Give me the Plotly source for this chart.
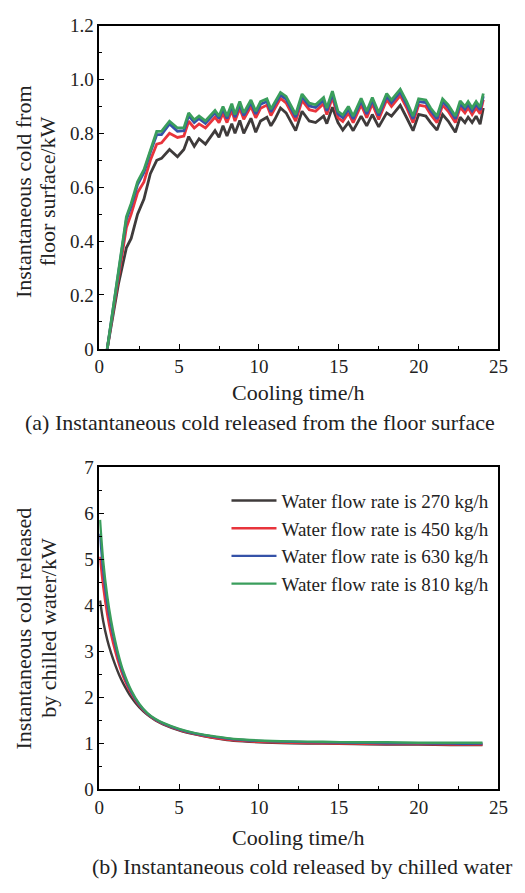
import plotly.graph_objects as go

# ---------------- data: (a) floor surface ----------------
t_a = [0.5, 1.2, 1.7, 2.0, 2.4, 2.8, 3.2, 3.6, 3.9, 4.4, 4.9, 5.3, 5.6, 5.95, 6.25,
       6.65, 7.25, 7.5, 7.75, 8.0, 8.3, 8.5, 8.8, 9.05, 9.5, 9.8, 10.1, 10.5, 10.75, 11.0,
       11.35, 11.7, 12.3, 12.7, 13.15, 13.55, 14.05, 14.25, 14.6, 14.95, 15.25, 15.6, 15.9,
       16.4, 16.75, 17.1, 17.5, 18.0, 18.3, 18.85, 19.25, 19.65, 20.0, 20.45, 20.75, 21.15,
       21.5, 21.85, 22.3, 22.6, 22.9, 23.1, 23.35, 23.6, 23.85, 24.05]

a_270 = [0.0, 0.24, 0.375, 0.41, 0.50, 0.556, 0.65, 0.70, 0.707, 0.74, 0.713, 0.74, 0.788,
         0.752, 0.78, 0.76, 0.81, 0.785, 0.828, 0.79, 0.836, 0.80, 0.848, 0.80, 0.856, 0.804,
         0.846, 0.86, 0.828, 0.852, 0.894, 0.876, 0.81, 0.882, 0.846, 0.84, 0.864, 0.836,
         0.897, 0.84, 0.812, 0.84, 0.81, 0.864, 0.828, 0.87, 0.824, 0.876, 0.864, 0.904,
         0.858, 0.81, 0.87, 0.864, 0.84, 0.812, 0.87, 0.846, 0.804, 0.86, 0.84, 0.86, 0.84,
         0.864, 0.834, 0.894]
a_450 = [0.0, 0.27, 0.45, 0.50, 0.58, 0.62, 0.70, 0.76, 0.765, 0.80, 0.785, 0.79, 0.845,
         0.82, 0.835, 0.82, 0.86, 0.84, 0.875, 0.84, 0.885, 0.846, 0.893, 0.852, 0.90, 0.858,
         0.893, 0.905, 0.866, 0.893, 0.93, 0.913, 0.846, 0.922, 0.888, 0.882, 0.91, 0.87,
         0.934, 0.858, 0.844, 0.876, 0.84, 0.906, 0.858, 0.91, 0.852, 0.925, 0.90, 0.94,
         0.895, 0.84, 0.905, 0.90, 0.87, 0.84, 0.905, 0.882, 0.84, 0.897, 0.876, 0.895, 0.87,
         0.894, 0.873, 0.925]
a_630 = [0.0, 0.285, 0.48, 0.53, 0.61, 0.655, 0.73, 0.795, 0.795, 0.835, 0.808, 0.81, 0.866,
         0.84, 0.855, 0.837, 0.876, 0.855, 0.89, 0.855, 0.90, 0.86, 0.908, 0.866, 0.914, 0.872,
         0.908, 0.918, 0.88, 0.908, 0.942, 0.927, 0.86, 0.936, 0.902, 0.896, 0.923, 0.884,
         0.947, 0.872, 0.858, 0.89, 0.854, 0.92, 0.872, 0.923, 0.866, 0.938, 0.914, 0.954,
         0.908, 0.854, 0.918, 0.914, 0.884, 0.854, 0.918, 0.896, 0.854, 0.91, 0.89, 0.908,
         0.884, 0.908, 0.887, 0.938]
a_810 = [0.0, 0.29, 0.49, 0.54, 0.62, 0.665, 0.74, 0.807, 0.807, 0.845, 0.82, 0.82, 0.876,
         0.85, 0.864, 0.846, 0.885, 0.864, 0.90, 0.864, 0.91, 0.87, 0.918, 0.876, 0.924, 0.882,
         0.918, 0.928, 0.89, 0.918, 0.952, 0.937, 0.87, 0.946, 0.912, 0.906, 0.933, 0.894,
         0.957, 0.882, 0.868, 0.90, 0.864, 0.93, 0.882, 0.933, 0.876, 0.948, 0.924, 0.964,
         0.918, 0.864, 0.928, 0.924, 0.894, 0.864, 0.928, 0.906, 0.864, 0.92, 0.90, 0.918,
         0.894, 0.918, 0.897, 0.948]

# ---------------- data: (b) chilled water ----------------
t_b = [0.05, 0.25, 0.5, 0.75, 1, 1.25, 1.5, 2, 2.5, 3, 3.5, 4, 5, 6, 7, 8, 9, 10,
       12, 14, 16, 18, 20, 22, 24]
b_270 = [4.1, 3.65, 3.25, 2.95, 2.7, 2.48, 2.3, 2.0, 1.78, 1.62, 1.5, 1.41, 1.28, 1.19,
         1.12, 1.07, 1.04, 1.02, 1.0, 0.99, 0.98, 0.97, 0.97, 0.96, 0.96]
b_450 = [5.05, 4.4, 3.8, 3.35, 3.0, 2.7, 2.45, 2.08, 1.82, 1.64, 1.51, 1.42, 1.29, 1.2,
         1.13, 1.08, 1.05, 1.03, 1.01, 1.0, 0.99, 0.98, 0.98, 0.97, 0.97]
b_630 = [5.55, 4.75, 4.05, 3.55, 3.15, 2.8, 2.52, 2.12, 1.84, 1.65, 1.52, 1.43, 1.3, 1.21,
         1.15, 1.1, 1.07, 1.05, 1.03, 1.02, 1.01, 1.0, 1.0, 0.99, 0.99]
b_810 = [5.85, 4.95, 4.2, 3.65, 3.22, 2.86, 2.57, 2.15, 1.86, 1.66, 1.53, 1.44, 1.31, 1.22,
         1.16, 1.11, 1.08, 1.06, 1.04, 1.03, 1.02, 1.02, 1.01, 1.01, 1.01]

names = ["Water flow rate is 270 kg/h", "Water flow rate is 450 kg/h",
         "Water flow rate is 630 kg/h", "Water flow rate is 810 kg/h"]
colors = ["#3f3b3b", "#e8343c", "#3552a8", "#3a9e5c"]

y_ticks_a = [0, 0.2, 0.4, 0.6, 0.8, 1.0, 1.2]
y_ticklabels_a = ["0", "0.2", "0.4", "0.6", "0.8", "1.0", "1.2"]
x_ticks = [0, 5, 10, 15, 20, 25]
y_ticks_b = [0, 1, 2, 3, 4, 5, 6, 7]

FONT = "'Liberation Serif'"
W, H = 525, 893

fig = go.Figure()
for ys, nm, c in zip([a_270, a_450, a_630, a_810], names, colors):
    fig.add_trace(go.Scatter(x=t_a, y=ys, mode="lines", name=nm, showlegend=False,
                             line=dict(color=c, width=2.8), xaxis="x", yaxis="y"))
for ys, nm, c in zip([b_270, b_450, b_630, b_810], names, colors):
    fig.add_trace(go.Scatter(x=t_b, y=ys, mode="lines", name=nm, showlegend=True,
                             line=dict(color=c, width=2.4, shape="spline"),
                             xaxis="x2", yaxis="y2"))

def px_x(p):
    return p / W

def px_y(p):
    return 1 - p / H

axis_common = dict(showline=True, linecolor="black", linewidth=1.5, mirror=True,
                   ticks="inside", ticklen=5, tickwidth=1.3, tickcolor="black",
                   showgrid=False, zeroline=False,
                   tickfont=dict(family=FONT, size=19, color="#222"))

fig.update_layout(
    width=W, height=H,
    margin=dict(l=0, r=0, t=0, b=0),
    paper_bgcolor="white", plot_bgcolor="white",
    font=dict(family=FONT, color="#222"),
    xaxis=dict(domain=[px_x(97), px_x(508)], range=[0, 25], tickvals=x_ticks,
               minor=dict(ticks="inside", ticklen=3, dtick=2.5, tickcolor="black"),
               anchor="y", **axis_common),
    yaxis=dict(domain=[px_y(347), px_y(16)], range=[0, 1.2], tickvals=y_ticks_a,
               ticktext=y_ticklabels_a,
               minor=dict(ticks="inside", ticklen=3, dtick=0.1, tickcolor="black"),
               anchor="x", **axis_common),
    xaxis2=dict(domain=[px_x(97), px_x(508)], range=[0, 25], tickvals=x_ticks,
                minor=dict(ticks="inside", ticklen=3, dtick=2.5, tickcolor="black"),
                anchor="y2", **axis_common),
    yaxis2=dict(domain=[px_y(798), px_y(468)], range=[0, 7], tickvals=y_ticks_b,
                minor=dict(ticks="inside", ticklen=3, dtick=0.5, tickcolor="black"),
                anchor="x2", **axis_common),
    legend=dict(x=px_x(228), y=px_y(483), xanchor="left", yanchor="top",
                bgcolor="rgba(0,0,0,0)", borderwidth=0, itemwidth=45,
                font=dict(family=FONT, size=19, color="#222"), tracegroupgap=0),
    showlegend=True,
)

ann = [
    dict(text="Cooling time/h", x=px_x(302), y=px_y(392), size=22, angle=0),
    dict(text="(a) Instantaneous cold released from the floor surface", x=px_x(263),
         y=px_y(422), size=22, angle=0),
    dict(text="Instantaneous cold from", x=px_x(19), y=px_y(186), size=22, angle=-90),
    dict(text="floor surface/kW", x=px_x(44), y=px_y(186), size=22, angle=-90),
    dict(text="Cooling time/h", x=px_x(302), y=px_y(847), size=22, angle=0),
    dict(text="(b) Instantaneous cold released by chilled water", x=px_x(306),
         y=px_y(877), size=22, angle=0),
    dict(text="Instantaneous cold released", x=px_x(19), y=px_y(633), size=22, angle=-90),
    dict(text="by chilled water/kW", x=px_x(44), y=px_y(633), size=22, angle=-90),
]
for a in ann:
    fig.add_annotation(text=a["text"], x=a["x"], y=a["y"], xref="paper", yref="paper",
                       xanchor="center", yanchor="middle", showarrow=False,
                       textangle=a["angle"],
                       font=dict(family=FONT, size=a["size"], color="#222"))

fig.write_html("out.html")
